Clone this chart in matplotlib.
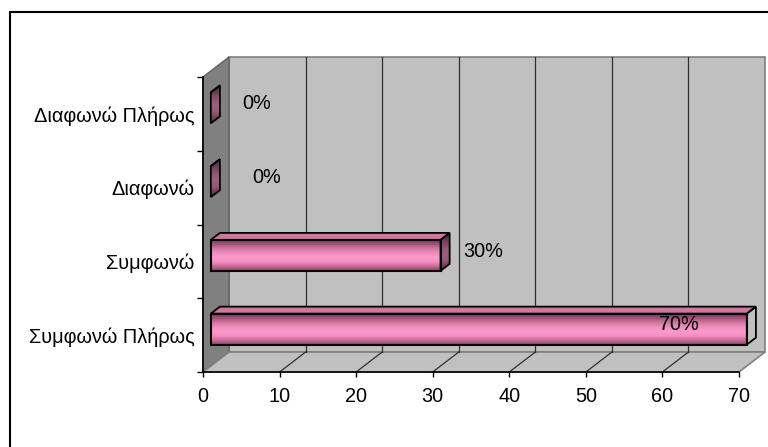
import numpy as np
import matplotlib
matplotlib.use("Agg")
import matplotlib.pyplot as plt
from matplotlib.patches import Polygon, Rectangle
from matplotlib.colors import to_rgb

plt.rcParams['font.family'] = ['Liberation Sans', 'DejaVu Sans']

# chart data
categories = ['Συμφωνώ Πλήρως', 'Συμφωνώ', 'Διαφωνώ', 'Διαφωνώ Πλήρως']
values = [70, 30, 0, 0]
value_labels = ['70%', '30%', '0%', '0%']
x_ticks = [0, 10, 20, 30, 40, 50, 60, 70]

# label nudges (data units), negative = inside the bar
label_offsets = [-5.2, 4.0, 6.4, 5.1]

XMAX = 70
DX = 3.4      # depth of the 3D box in x data units
DY = 0.271    # depth of the 3D box in category units
F0, F1 = 0.30, 0.65   # bar depth position (front/back fraction)
BAR_H = 0.42
FS = 14.3

fig = plt.figure(figsize=(7.68, 4.47), dpi=100)
ax = fig.add_axes([203 / 768, 75 / 447, 536 / 768, 295 / 447])
ax.set_xlim(0, XMAX)
ax.set_ylim(-0.5, len(categories) - 0.5)
ax.set_autoscale_on(False)
ax.patch.set_visible(False)

ylo, yhi = -0.5, len(categories) - 0.5

# back wall, side wall, floor
ax.add_patch(Polygon([(DX, ylo + DY), (XMAX + DX, ylo + DY), (XMAX + DX, yhi + DY), (DX, yhi + DY)],
                     closed=True, fc='#c0c0c0', ec='#808080', lw=1.2, clip_on=False, zorder=0))
ax.add_patch(Polygon([(0, ylo), (DX, ylo + DY), (DX, yhi + DY), (0, yhi)],
                     closed=True, fc='#808080', ec='#606060', lw=1, clip_on=False, zorder=0.5))
ax.add_patch(Polygon([(0, ylo), (XMAX, ylo), (XMAX + DX, ylo + DY), (DX, ylo + DY)],
                     closed=True, fc='#c0c0c0', ec='#808080', lw=1.2, clip_on=False, zorder=0.5))

# gridlines on the wall and the floor
for t in x_ticks[1:-1]:
    ax.plot([t + DX, t + DX], [ylo + DY, yhi + DY], color='#303030', lw=0.9, clip_on=False, zorder=0.6)
    ax.plot([t, t + DX], [ylo, ylo + DY], color='#303030', lw=0.9, clip_on=False, zorder=0.6)

# bars gradient (top -> bottom of the front face)
grad_stops = ['#7a3a5c', '#a8577f', '#d47aa6', '#f28fc0', '#ff99cc', '#f28fc0', '#c46a96', '#8a4568']
grad = np.array([to_rgb(c) for c in grad_stops])
rows = np.linspace(0, 1, 60)
img = np.stack([np.interp(rows, np.linspace(0, 1, len(grad)), grad[:, k]) for k in range(3)], axis=1)
img = img[:, None, :]
side_img = np.clip(img * 0.62, 0, 1)

d = F1 - F0
for i, v in enumerate(values):
    x0 = F0 * DX
    y0 = i + F0 * DY - BAR_H / 2
    y1 = y0 + BAR_H
    if v > 0:
        ax.imshow(img, extent=[x0, x0 + v, y0, y1], aspect='auto', origin='upper',
                  clip_on=False, zorder=2, interpolation='bilinear')
        ax.add_patch(Rectangle((x0, y0), v, BAR_H, fill=False, ec='black', lw=1.5,
                               clip_on=False, zorder=3))
    # top face
    ax.add_patch(Polygon([(x0, y1), (x0 + v, y1), (x0 + v + d * DX, y1 + d * DY), (x0 + d * DX, y1 + d * DY)],
                         closed=True, fc='#cf76a3', ec='black', lw=1.3, clip_on=False, zorder=2.5))
    # right face
    side = Polygon([(x0 + v, y0), (x0 + v + d * DX, y0 + d * DY), (x0 + v + d * DX, y1 + d * DY), (x0 + v, y1)],
                   closed=True, fc='none', ec='black', lw=1.3, clip_on=False, zorder=3)
    ax.add_patch(side)
    im = ax.imshow(side_img, extent=[x0 + v, x0 + v + d * DX, y0, y1 + d * DY], aspect='auto',
                   origin='upper', clip_on=True, zorder=2.4, interpolation='bilinear')
    im.set_clip_path(side)

    # value label
    off = label_offsets[i]
    ax.text(v + off, i + 0.14, value_labels[i], fontsize=FS, color='black',
            ha='right' if off < 0 else 'left', va='center', zorder=4, clip_on=False)

# axes styling
for s in ['top', 'right']:
    ax.spines[s].set_visible(False)
for s in ['left', 'bottom']:
    ax.spines[s].set_color('black')
    ax.spines[s].set_linewidth(1.2)
    ax.spines[s].set_zorder(5)

ax.set_xticks(x_ticks)
ax.set_xticklabels([str(t) for t in x_ticks])
ax.tick_params(axis='x', direction='out', length=3.6, width=1, labelsize=FS, pad=7.5)

ax.set_yticks(range(len(categories)))
ax.set_yticklabels(categories)
ax.set_yticks(np.arange(-0.5, len(categories), 1.0), minor=True)
ax.tick_params(axis='y', which='major', length=0, labelsize=FS, pad=6)
ax.tick_params(axis='y', which='minor', direction='out', length=4.5, width=1)

# outer frame of the chart area
fig.add_artist(Rectangle((10 / 768, -0.2), 1.0, 1.2 - 12 / 447, transform=fig.transFigure,
                         fill=False, ec='black', lw=1.5))

fig.savefig('out.png', dpi=100)
